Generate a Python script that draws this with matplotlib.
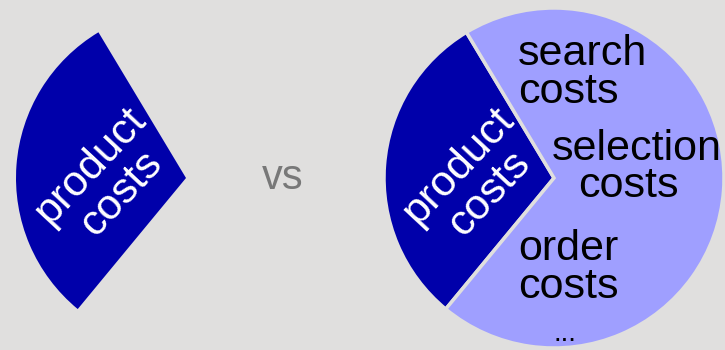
import matplotlib
matplotlib.use("Agg")
import matplotlib.pyplot as plt

# data
left_shares = [0.304]
right_shares = [0.304, 0.696]
right_colors = ["#0000aa", "#9f9fff"]
product_label = "product\ncosts"
other_labels = ["search\ncosts", "selection\ncosts", "order\ncosts", "..."]
vs_label = "vs"

BG = "#e0dfde"
plt.rcParams["font.family"] = ["Liberation Sans", "DejaVu Sans"]

fig = plt.figure(figsize=(7.25, 3.5), dpi=100, facecolor=BG)
ax = fig.add_axes([0, 0, 1, 1])
ax.set_facecolor(BG)

R = 170
cl = (186, 172)
cr = (554, 172)
start = 121

ax.pie(left_shares, normalize=False, startangle=start, radius=R, center=cl,
       colors=["#0000aa"], wedgeprops=dict(edgecolor=BG, linewidth=0),
       frame=True)
ax.pie(right_shares, startangle=start, radius=R, center=cr,
       colors=right_colors, wedgeprops=dict(edgecolor=BG, linewidth=2.5),
       frame=True)

ax.set_xlim(0, 725)
ax.set_ylim(0, 350)
ax.set_aspect("equal")
ax.axis("off")

fs = 31
for c in (cl, cr):
    ax.text(c[0] - 80, c[1] - 2, product_label, color="white", fontsize=fs,
            rotation=47, ha="center", va="center", multialignment="center",
            linespacing=1.05, rotation_mode="anchor")

ax.text(283, 172, vs_label, color="#787878", fontsize=30, ha="center", va="center")

ax.text(518, 350 - 103, other_labels[0], fontsize=fs, ha="left", va="baseline",
        linespacing=0.95)
sel_lines = other_labels[1].split("\n")
ax.text(637, 350 - 160, sel_lines[0], fontsize=fs, ha="center", va="baseline")
ax.text(628, 350 - 197, sel_lines[1], fontsize=fs, ha="center", va="baseline")
ax.text(518, 350 - 298, other_labels[2], fontsize=fs, ha="left", va="baseline",
        linespacing=0.95)
ax.text(565, 350 - 341, other_labels[3], fontsize=20, ha="center", va="baseline")

fig.savefig("out.png", dpi=100, facecolor=BG)
